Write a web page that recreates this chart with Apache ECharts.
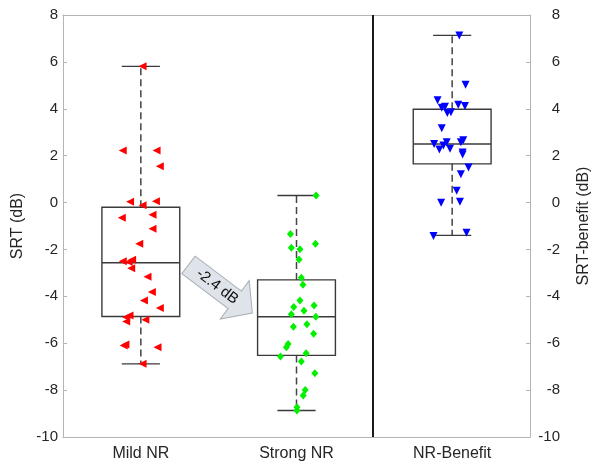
<!DOCTYPE html>
<html>
<head>
<meta charset="utf-8">
<script src="https://cdn.jsdelivr.net/npm/echarts@6/dist/echarts.min.js"></script>
<style>html,body{margin:0;padding:0;background:#fff}#c{width:600px;height:464px}</style>
</head>
<body>
<div id="c"></div>
<script>
// ---- data ----
const categories = ['Mild NR', 'Strong NR', 'NR-Benefit'];
const yTicks = [-10, -8, -6, -4, -2, 0, 2, 4, 6, 8];
// [position, min whisker, Q1, median, Q3, max whisker]
const boxMild = [1, -6.88, -4.86, -2.57, -0.2, 5.81];
const boxStrong = [2, -8.87, -6.52, -4.87, -3.3, 0.3];
const boxBenefit = [3, -1.4, 1.65, 2.5, 3.98, 7.13];
// jittered points [x, SRT]
const mildPts = [[1.011,5.81],[0.884,2.22],[1.101,2.22],[1.122,1.55],[0.931,0.03],[1.097,0.06],[1.011,-0.11],[0.878,-0.65],[1.075,-0.52],[1.075,-1.12],[0.990,-1.76],[0.884,-2.5],[0.922,-2.54],[0.944,-2.44],[0.938,-2.8],[1.043,-3.16],[1.071,-3.82],[1.020,-4.18],[1.122,-4.5],[0.927,-4.82],[0.906,-4.89],[0.906,-5.07],[1.029,-5.0],[0.901,-6.05],[0.890,-6.1],[1.107,-6.17],[1.011,-6.88]];
const strongPts = [[2.126,0.3],[1.961,-1.34],[2.122,-1.76],[1.967,-1.93],[2.022,-1.99],[2.016,-2.43],[2.031,-3.21],[2.041,-3.51],[2.022,-4.18],[1.982,-4.46],[2.113,-4.39],[2.048,-4.62],[1.967,-4.76],[2.124,-4.87],[1.980,-5.3],[2.067,-5.19],[2.110,-5.6],[1.946,-6.03],[1.935,-6.17],[1.897,-6.57],[2.062,-6.43],[2.031,-6.78],[2.118,-7.28],[2.056,-7.99],[2.043,-8.23],[2.003,-8.73],[2.003,-8.87]];
const benefitPts = [[3.046,7.13],[3.086,5.03],[2.906,4.36],[2.933,4.04],[2.954,4.09],[3.039,4.17],[3.082,4.12],[2.969,3.82],[2.992,3.85],[2.933,3.17],[2.884,2.5],[2.918,2.26],[2.944,2.43],[2.965,2.57],[2.986,2.29],[3.056,2.57],[3.071,2.66],[3.067,2.14],[3.067,2.05],[3.105,1.49],[3.056,1.21],[3.029,0.5],[2.929,-0.01],[3.050,0.03],[2.880,-1.43],[3.092,-1.29]];
const dividerX = 2.49;
const arrowText = '-2.4 dB';
const arrowFrom = [1.306, -2.66];

const FONT = '"Liberation Sans", Arial, Helvetica, sans-serif';
const axisGray = '#b4b4b4';
const textCol = '#262626';

const chart = echarts.init(document.getElementById('c'));

function renderBox(params, api) {
  const x = api.value(0);
  const unit = api.size([1, 0])[0];
  const bw = unit * 0.5, cw = unit * 0.245;
  const pMin = api.coord([x, api.value(1)]);
  const pQ1 = api.coord([x, api.value(2)]);
  const pMed = api.coord([x, api.value(3)]);
  const pQ3 = api.coord([x, api.value(4)]);
  const pMax = api.coord([x, api.value(5)]);
  const cx = pMed[0];
  const solid = { stroke: '#3a3a3a', lineWidth: 1.4, fill: 'none' };
  const dash = { stroke: '#444', lineWidth: 1.5, lineDash: [7, 4] };
  return {
    type: 'group',
    children: [
      { type: 'line', shape: { x1: cx, y1: pQ3[1], x2: cx, y2: pMax[1] }, style: dash },
      { type: 'line', shape: { x1: cx, y1: pQ1[1], x2: cx, y2: pMin[1] }, style: dash },
      { type: 'line', shape: { x1: cx - cw / 2, y1: pMax[1], x2: cx + cw / 2, y2: pMax[1] }, style: solid },
      { type: 'line', shape: { x1: cx - cw / 2, y1: pMin[1], x2: cx + cw / 2, y2: pMin[1] }, style: solid },
      { type: 'rect', shape: { x: cx - bw / 2, y: pQ3[1], width: bw, height: pQ1[1] - pQ3[1] }, style: solid },
      { type: 'line', shape: { x1: cx - bw / 2, y1: pMed[1], x2: cx + bw / 2, y2: pMed[1] }, style: solid }
    ]
  };
}

const yAxisCommon = {
  type: 'value', min: -10, max: 8, interval: 2,
  axisLine: { show: true, onZero: false, lineStyle: { color: axisGray, width: 1 } },
  axisTick: { show: true, inside: true, length: 4, lineStyle: { color: axisGray } },
  splitLine: { show: false },
  nameLocation: 'middle',
  nameTextStyle: { fontFamily: FONT, fontSize: 16, color: textCol }
};

chart.setOption({
  animation: false,
  backgroundColor: '#fff',
  grid: { left: 63, right: 67, top: 15, bottom: 27, containLabel: false },
  xAxis: [
    {
      type: 'category', data: categories, position: 'bottom', boundaryGap: true,
      axisLine: { onZero: false, lineStyle: { color: axisGray } },
      axisTick: { inside: true, alignWithLabel: true, length: 4, lineStyle: { color: axisGray } },
      axisLabel: { fontFamily: FONT, fontSize: 16, color: textCol, margin: 9 },
      splitLine: { show: false }
    },
    {
      type: 'category', data: categories, position: 'top', boundaryGap: true,
      axisLine: { onZero: false, lineStyle: { color: axisGray } },
      axisTick: { inside: true, alignWithLabel: true, length: 4, lineStyle: { color: axisGray } },
      axisLabel: { show: false },
      splitLine: { show: false }
    },
    { type: 'value', min: 0.5, max: 3.5, show: false, splitLine: { show: false }, axisLine: { onZero: false } }
  ],
  yAxis: [
    Object.assign({}, yAxisCommon, {
      position: 'left', name: 'SRT (dB)', nameGap: 33,
      axisLabel: { fontFamily: FONT, fontSize: 15, color: textCol, margin: 5 }
    }),
    Object.assign({}, yAxisCommon, {
      position: 'right', name: 'SRT-benefit (dB)', nameGap: 46,
      axisLabel: { fontFamily: FONT, fontSize: 15, color: textCol, margin: 30, align: 'right' }
    })
  ],
  series: [
    {
      type: 'custom', xAxisIndex: 2, yAxisIndex: 0, renderItem: renderBox,
      data: [boxMild, boxStrong, boxBenefit], z: 2, silent: true
    },
    {
      type: 'scatter', xAxisIndex: 2, yAxisIndex: 0, data: mildPts, z: 3,
      symbol: 'triangle', symbolRotate: 90, symbolSize: [8, 8],
      itemStyle: { color: '#ff0000', opacity: 1 },
      markLine: {
        silent: true, symbol: 'none', label: { show: false },
        lineStyle: { color: '#1a1a1a', width: 2, type: 'solid' },
        data: [{ xAxis: dividerX }]
      }
    },
    {
      type: 'scatter', xAxisIndex: 2, yAxisIndex: 0, data: strongPts, z: 3,
      symbol: 'diamond', symbolSize: [7, 8],
      itemStyle: { color: '#00f000', opacity: 1 }
    },
    {
      type: 'scatter', xAxisIndex: 2, yAxisIndex: 0, data: benefitPts, z: 3,
      symbol: 'triangle', symbolRotate: 180, symbolSize: [8, 8],
      itemStyle: { color: '#0000ff', opacity: 1 }
    }
  ]
});

// annotation arrow anchored via axis conversion
const ax = chart.convertToPixel({ xAxisIndex: 2 }, arrowFrom[0]);
const ay = chart.convertToPixel({ yAxisIndex: 0 }, arrowFrom[1]);
const L = 80, sw = 11, hw = 24, hl = 22;
chart.setOption({
  graphic: [{
    type: 'group', x: ax, y: ay, rotation: -37 * Math.PI / 180, z: 10,
    children: [
      {
        type: 'polygon',
        shape: { points: [[0, -sw], [L - hl, -sw], [L - hl, -hw], [L, 0], [L - hl, hw], [L - hl, sw], [0, sw]] },
        style: { fill: '#dfe4ea', stroke: '#a9aeb4', lineWidth: 1 }
      },
      {
        type: 'text', x: 36, y: 0,
        style: { text: arrowText, fontFamily: FONT, fontSize: 15, fill: '#111', align: 'center', verticalAlign: 'middle' }
      }
    ]
  }]
});
</script>
</body>
</html>
